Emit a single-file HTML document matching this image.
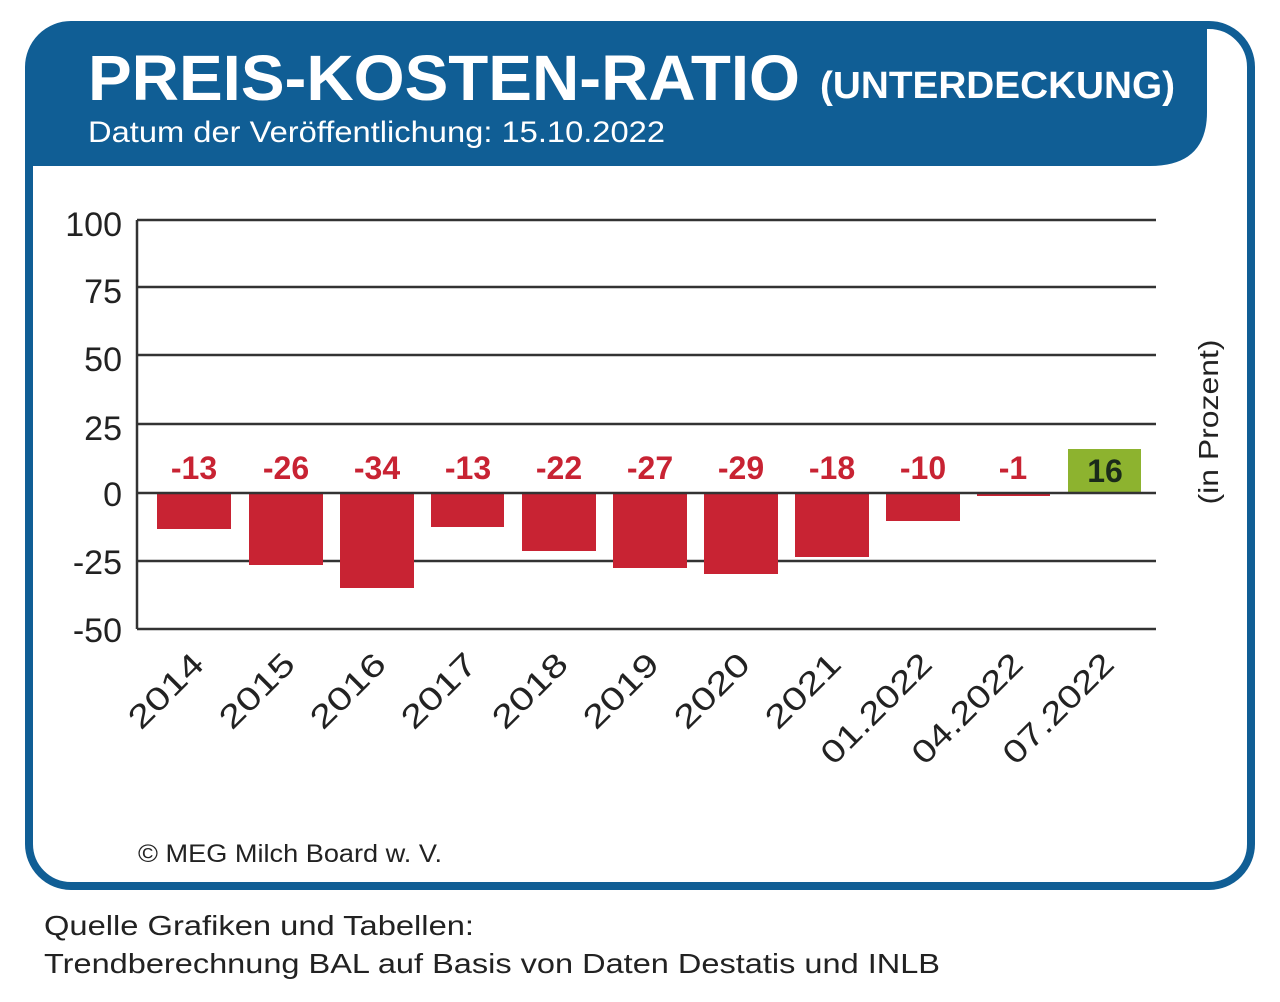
<!DOCTYPE html>
<html><head><meta charset="utf-8"><style>
html,body{margin:0;padding:0;background:#fff;}
svg{display:block;font-family:"Liberation Sans",sans-serif;}
</style></head><body>
<svg width="1280" height="1002" viewBox="0 0 1280 1002" xmlns="http://www.w3.org/2000/svg">
<rect x="29" y="25" width="1222" height="861" rx="42" fill="#fff" stroke="#105e95" stroke-width="8"/>
<path d="M29 66 Q29 25 70 25 L1207 25 L1207 112 Q1207 166 1150 166 L29 166 Z" fill="#105e95"/>
<text x="88" y="100" font-size="64" font-weight="bold" fill="#fff" textLength="712" lengthAdjust="spacingAndGlyphs">PREIS-KOSTEN-RATIO</text>
<text x="820" y="98" font-size="38" font-weight="bold" fill="#fff" textLength="355" lengthAdjust="spacingAndGlyphs">(UNTERDECKUNG)</text>
<text x="88" y="142" font-size="30" fill="#fff" textLength="577" lengthAdjust="spacingAndGlyphs">Datum der Veröffentlichung: 15.10.2022</text>
<g stroke="#333" stroke-width="2.5">
<line x1="137" y1="220" x2="1156" y2="220"/><line x1="137" y1="287" x2="1156" y2="287"/>
<line x1="137" y1="355" x2="1156" y2="355"/><line x1="137" y1="424" x2="1156" y2="424"/>
<line x1="137" y1="561" x2="1156" y2="561"/><line x1="137" y1="629" x2="1156" y2="629"/>
<line x1="137" y1="220" x2="137" y2="629"/>
</g>
<g font-size="34" fill="#222" text-anchor="end">
<text x="122" y="236">100</text><text x="122" y="303">75</text><text x="122" y="371">50</text>
<text x="122" y="440">25</text><text x="122" y="506">0</text><text x="122" y="574">-25</text><text x="122" y="642">-50</text>
</g>
<g fill="#c82333">
<rect x="157" y="493" width="74" height="36"/><rect x="249" y="493" width="74" height="72"/>
<rect x="340" y="493" width="74" height="95"/><rect x="431" y="493" width="73" height="34"/>
<rect x="522" y="493" width="74" height="58"/><rect x="613" y="493" width="74" height="75"/>
<rect x="704" y="493" width="74" height="81"/><rect x="795" y="493" width="74" height="64"/>
<rect x="886" y="493" width="74" height="28"/><rect x="977" y="493" width="73" height="3"/>
</g>
<rect x="1068" y="449" width="73" height="44" fill="#8db32f"/>
<line x1="137" y1="493" x2="1156" y2="493" stroke="#333" stroke-width="2.5"/>
<g font-size="32" font-weight="bold" fill="#c82333" text-anchor="middle">
<text x="194" y="479">-13</text><text x="286" y="479">-26</text><text x="377" y="479">-34</text>
<text x="468" y="479">-13</text><text x="559" y="479">-22</text><text x="650" y="479">-27</text>
<text x="741" y="479">-29</text><text x="832" y="479">-18</text><text x="923" y="479">-10</text>
<text x="1013" y="479">-1</text><text x="1105" y="482" fill="#1a2a1a">16</text>
</g>
<g font-size="32" fill="#222" text-anchor="end">
<text transform="translate(206,666) rotate(-45)" textLength="92" lengthAdjust="spacingAndGlyphs">2014</text>
<text transform="translate(297,666) rotate(-45)" textLength="92" lengthAdjust="spacingAndGlyphs">2015</text>
<text transform="translate(388,666) rotate(-45)" textLength="92" lengthAdjust="spacingAndGlyphs">2016</text>
<text transform="translate(479,666) rotate(-45)" textLength="92" lengthAdjust="spacingAndGlyphs">2017</text>
<text transform="translate(570,666) rotate(-45)" textLength="92" lengthAdjust="spacingAndGlyphs">2018</text>
<text transform="translate(661,666) rotate(-45)" textLength="92" lengthAdjust="spacingAndGlyphs">2019</text>
<text transform="translate(752,666) rotate(-45)" textLength="92" lengthAdjust="spacingAndGlyphs">2020</text>
<text transform="translate(843,666) rotate(-45)" textLength="92" lengthAdjust="spacingAndGlyphs">2021</text>
<text transform="translate(934,666) rotate(-45)" textLength="142" lengthAdjust="spacingAndGlyphs">01.2022</text>
<text transform="translate(1025,666) rotate(-45)" textLength="142" lengthAdjust="spacingAndGlyphs">04.2022</text>
<text transform="translate(1116,666) rotate(-45)" textLength="142" lengthAdjust="spacingAndGlyphs">07.2022</text>
</g>
<text transform="translate(1218,422) rotate(-90)" font-size="28" fill="#222" text-anchor="middle" textLength="165" lengthAdjust="spacingAndGlyphs">(in Prozent)</text>
<text x="138" y="862" font-size="25" fill="#222" textLength="304" lengthAdjust="spacingAndGlyphs">© MEG Milch Board w. V.</text>
<text x="44" y="935" font-size="28" fill="#222" textLength="430" lengthAdjust="spacingAndGlyphs">Quelle Grafiken und Tabellen:</text>
<text x="44" y="973" font-size="28" fill="#222" textLength="896" lengthAdjust="spacingAndGlyphs">Trendberechnung BAL auf Basis von Daten Destatis und INLB</text>
</svg>
</body></html>
